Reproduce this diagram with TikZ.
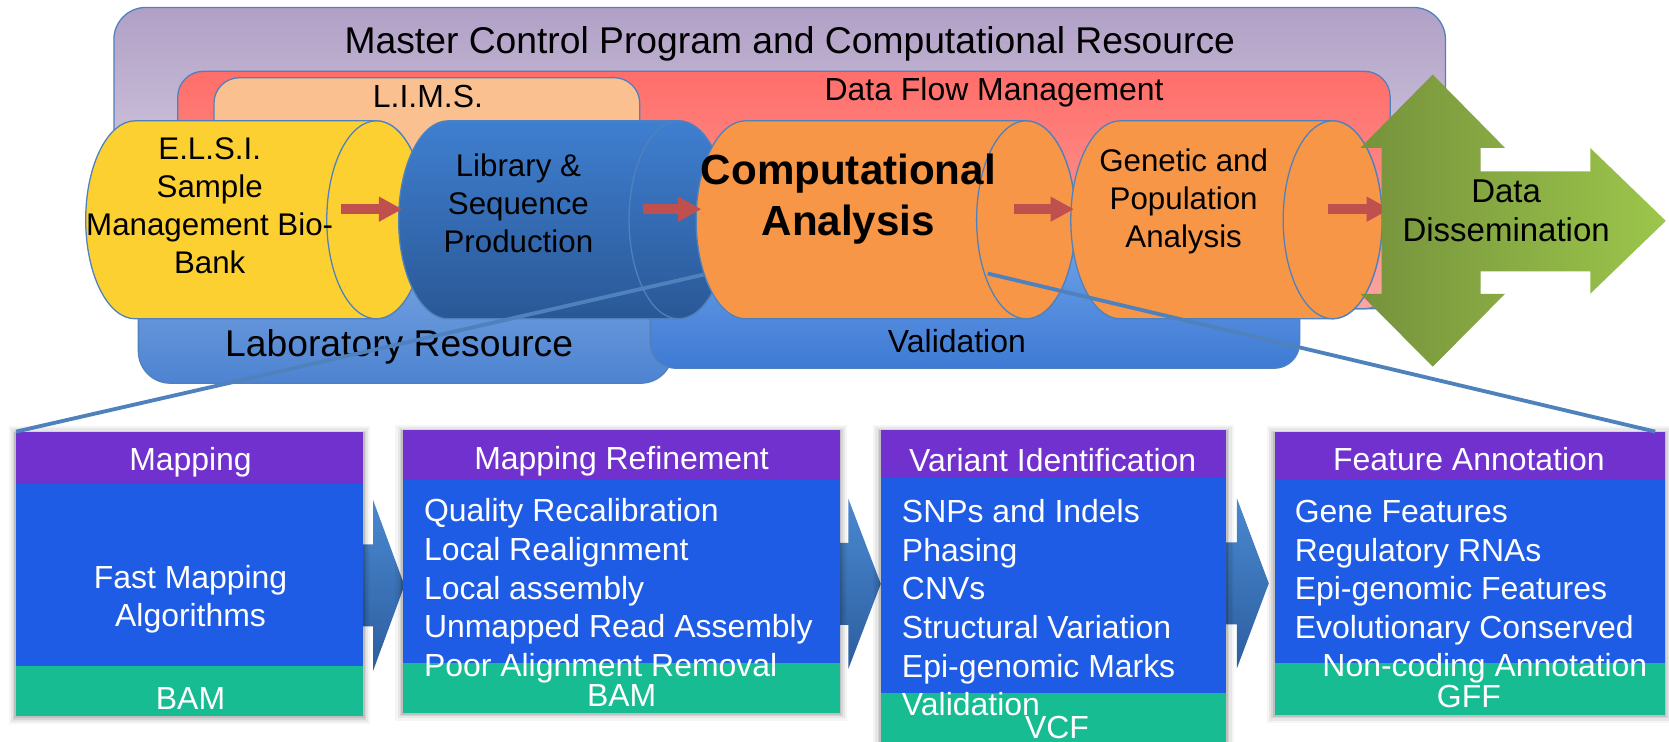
\documentclass[tikz,border=0pt]{standalone}
\usepackage{fontspec}
\setmainfont{Liberation Sans}
\usetikzlibrary{arrows.meta}
\definecolor{mastertop}{HTML}{B1A0C6}
\definecolor{masterbot}{HTML}{E8E4EF}
\definecolor{dftop}{HTML}{FF6E6A}
\definecolor{dfbot}{HTML}{FBA5A1}
\definecolor{limsc}{HTML}{FAC090}
\definecolor{labtop}{HTML}{7CA8E4}
\definecolor{labbot}{HTML}{4D83D1}
\definecolor{valtop}{HTML}{6CA0E8}
\definecolor{valbot}{HTML}{3E7AD4}
\definecolor{cylyel}{HTML}{FDD032}
\definecolor{cylbtop}{HTML}{3F7FD0}
\definecolor{cylbbot}{HTML}{2A5896}
\definecolor{cylor}{HTML}{F79646}
\definecolor{edgeb}{HTML}{4F81BD}
\definecolor{redc}{HTML}{C0504D}
\definecolor{greenl}{HTML}{76923C}
\definecolor{greenr}{HTML}{9CC64B}
\definecolor{hdrc}{HTML}{7131CF}
\definecolor{bodyc}{HTML}{1E5CE6}
\definecolor{footc}{HTML}{18BC93}
\definecolor{chevtop}{HTML}{4A88D0}
\definecolor{chevbot}{HTML}{2D5E9F}

\newcommand\mycyl[3]{%
  \path[#3] (#1,113.5) -- (#2,113.5)
    arc[start angle=-90,end angle=90,x radius=46.5,y radius=93]
    -- (#1,299.5)
    arc[start angle=90,end angle=270,x radius=46.5,y radius=93] -- cycle;
  \path[#3] (#2,206.5) ellipse[x radius=46.5,y radius=93];}

\newcommand\mybox[6]{%
  \fill[black,opacity=.04] (#1-7,#3-5) rectangle (#2+7,#6+7);
  \fill[black,opacity=.06] (#1-5,#3-3) rectangle (#2+5,#6+5);
  \fill[black,opacity=.08] (#1-3,#3-1) rectangle (#2+3,#6+3);
  \fill[black,opacity=.10] (#1-1.5,#3) rectangle (#2+1.5,#6+1.5);
  \fill[hdrc] (#1,#3) rectangle (#2,#4);
  \fill[bodyc] (#1,#4) rectangle (#2,#5);
  \fill[footc] (#1,#5) rectangle (#2,#6);}

\newcommand\mychev[4]{%
  \path[top color=chevtop,bottom color=chevbot]
    (#1,#4-38.5) -- (#2,#4-38.5) -- (#2,#4-80) -- (#3,#4) -- (#2,#4+80)
    -- (#2,#4+38.5) -- (#1,#4+38.5) -- cycle;}

\begin{document}
\begin{tikzpicture}[x=0.5pt,y=-0.5pt,
  outl/.style={draw=edgeb,line width=0.6pt},
  f15/.style={inner sep=0pt,align=center,font=\fontsize{15}{18}\selectfont},
  f175/.style={inner sep=0pt,align=center,font=\fontsize{17.5}{21}\selectfont},
  cyltxt/.style={inner sep=0pt,align=center,font=\fontsize{14.7}{17.8}\selectfont},
  catxt/.style={inner sep=0pt,align=center,font=\fontsize{19.8}{24}\selectfont\bfseries},
  wt/.style={inner sep=0pt,text=white,font=\fontsize{15}{18.1}\selectfont},
  wtl/.style={wt,align=left,anchor=west},
  cylY/.style={fill=cylyel,outl},
  cylB/.style={top color=cylbtop,bottom color=cylbbot,outl},
  cylO/.style={fill=cylor,outl},
  redarr/.style={draw=redc,line width=5pt,-{Triangle[length=11pt,width=11pt]}},
  zoomline/.style={draw=edgeb,line width=1.8pt}]
\useasboundingbox (0,0) rectangle (1568,697);

% background resource boxes
\draw[outl,top color=mastertop,bottom color=masterbot,rounded corners=15pt] (107,7) rectangle (1358,290);
\node[f175] (mcp) at (742,41) {Master Control Program and Computational Resource};
\draw[outl,top color=dftop,bottom color=dfbot,rounded corners=12pt] (167,67) rectangle (1306,290);
\node[f15] (dfm) at (934,87) {Data Flow Management};
\draw[outl,fill=limsc,rounded corners=12pt] (201,73) rectangle (601,290);
\node[f15] (lims) at (402,91) {L.I.M.S.};
\draw[outl,top color=labtop,bottom color=labbot,rounded corners=15pt] (130,230) rectangle (632,360);
\node[f175] (lab) at (375,326) {Laboratory Resource};
\draw[outl,top color=valtop,bottom color=valbot,rounded corners=12pt] (611,230) rectangle (1221,346);
\node[f15] (val) at (899,320) {Validation};

% cylinders
\mycyl{127}{353.5}{cylY}
\mycyl{421}{637.5}{cylB}
\mycyl{700.5}{964}{cylO}
\mycyl{1052.5}{1252}{cylO}
\node[cyltxt] (elsi) at (197,193) {E.L.S.I.\\Sample\\Management Bio-\\Bank};
\node[cyltxt] (lib) at (487,191) {Library \&\\Sequence\\Production};
\node[catxt] (ca) at (797,187) {Computational\\Analysis};
\node[cyltxt] (gen) at (1112,189) {Genetic and\\Population\\Analysis};

% red arrows
\coordinate (a1s) at (320,196.5); \coordinate (a1e) at (378,196.5);
\coordinate (a2s) at (604,196.5); \coordinate (a2e) at (659,196.5);
\coordinate (a3s) at (953,196.5); \coordinate (a3e) at (1009,196.5);
\coordinate (a4s) at (1248,196.5); \coordinate (a4e) at (1306,196.5);
\draw[redarr] (a1s) -- (a1e);
\draw[redarr] (a2s) -- (a2e);
\draw[redarr] (a3s) -- (a3e);
\draw[redarr] (a4s) -- (a4e);

% green dissemination arrow
\path[left color=greenl,right color=greenr]
  (1346,70) -- (1414,139) -- (1391,139) -- (1391,161) -- (1494,161) -- (1494,139)
  -- (1565,207.5) -- (1494,276) -- (1494,255) -- (1391,255) -- (1391,276)
  -- (1414,276) -- (1346,344.5) -- (1278,276) -- (1298,276) -- (1298,139)
  -- (1278,139) -- cycle;
\node[inner sep=0pt,align=center,font=\fontsize{15.5}{18.5}\selectfont] (dd) at (1415,198) {Data\\Dissemination};

% chevrons between pipeline boxes
\mychev{320}{350.6}{380}{550}
\mychev{770}{797}{827.5}{548.5}
\mychev{1130}{1162}{1192}{548}

% pipeline boxes
\mybox{15}{341}{405.5}{455}{626}{673}
\node[wt] (maph) at (179,434) {Mapping};
\node[wt,align=center] (mapb) at (179,563) {Fast Mapping\\Algorithms};
\node[wt] (mapf) at (179,656) {BAM};

\mybox{378.5}{789}{404}{451}{623}{670}
\node[wt] (refh) at (584,433) {Mapping Refinement};
\node[wtl] (refb) at (398,555) {Quality Recalibration\\Local Realignment\\Local assembly\\Unmapped Read Assembly\\Poor Alignment Removal};
\node[wt] (reff) at (584,653) {BAM};

\mybox{827.5}{1152}{404}{449}{651}{705}
\node[wt] (varh) at (989,432) {Variant Identification};
\node[wtl] (varb) at (847,571) {SNPs and Indels\\Phasing\\CNVs\\Structural Variation\\Epi-genomic Marks\\Validation};
\node[wt] (varf) at (993,683) {VCF};

\mybox{1197.5}{1564}{405.5}{451}{623}{672}
\node[wt] (feah) at (1380,431) {Feature Annotation};
\node[wtl] (feab) at (1216,556) {Gene Features\\Regulatory RNAs\\Epi-genomic Features\\Evolutionary Conserved\\\hspace*{13pt}Non-coding Annotation};
\node[wt] (feaf) at (1380,654) {GFF};

% zoom lines
\coordinate (zl) at (661,258);
\coordinate (zr) at (928,257);
\coordinate (mapnw) at (15,405.5);
\coordinate (feane) at (1555,405.5);
\draw[zoomline] (zl) -- (mapnw);
\draw[zoomline] (zr) -- (feane);
\end{tikzpicture}
\end{document}
